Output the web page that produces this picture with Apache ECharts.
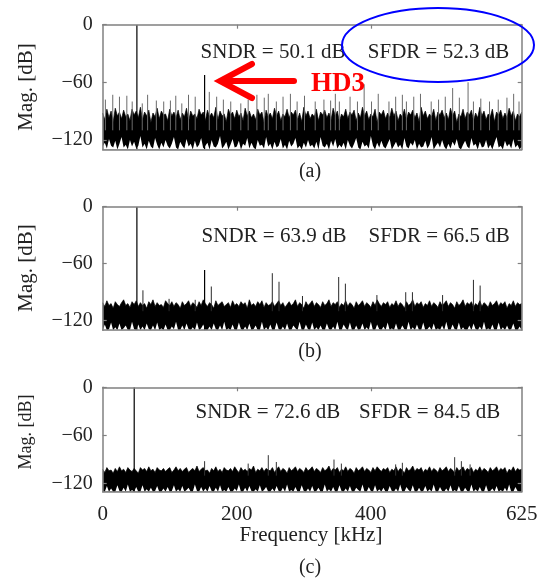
<!DOCTYPE html>
<html>
<head>
<meta charset="utf-8">
<script src="https://cdn.jsdelivr.net/npm/echarts@6/dist/echarts.min.js"></script>
<style>
html,body{margin:0;padding:0;background:#fff;}
#chart{width:549px;height:582px;}
</style>
</head>
<body>
<div id="chart"></div>
<script>
// ---- axes ----
const F_MAX = 625;            // kHz
const DB_MIN = -130;
const STEP = 3.125;           // kHz between noise-floor samples
const xTickLabels = [0, 200, 400, 625];
const xTopTicks = [200, 400];
const yTickLabels = [0, -60, -120];

// ---- panel (a) ----
const noiseTopA = [
-92,-99,-88,-97,-90,-101,-87,-95,-91,-98,
-89,-96,-93,-100,-88,-94,-90,-97,-86,-99,
-91,-95,-89,-102,-92,-96,-87,-98,-90,-94,
-93,-100,-88,-95,-91,-97,-89,-99,-92,-96,
-87,-101,-90,-95,-93,-98,-88,-94,-91,-100,
-89,-96,-92,-97,-86,-99,-90,-95,-93,-101,
-88,-94,-91,-98,-89,-96,-92,-100,-87,-95,
-90,-97,-93,-99,-88,-94,-91,-102,-89,-96,
-92,-98,-87,-95,-90,-100,-93,-96,-88,-97,
-91,-94,-89,-99,-92,-101,-86,-95,-90,-98,
-93,-96,-88,-100,-91,-94,-89,-97,-92,-99,
-87,-95,-90,-101,-93,-96,-88,-98,-91,-94,
-89,-100,-92,-97,-86,-95,-90,-99,-93,-96,
-88,-102,-91,-94,-89,-98,-92,-97,-87,-95,
-90,-100,-93,-96,-88,-99,-91,-94,-89,-97,
-92,-101,-86,-95,-90,-98,-93,-96,-88,-100,
-91,-94,-89,-97,-92,-99,-87,-95,-90,-102,
-93,-96,-88,-98,-91,-94,-89,-100,-92,-97,
-86,-95,-90,-99,-93,-96,-88,-101,-91,-94,
-89,-98,-92,-97,-87,-95,-90,-100,-93,-96,
-91];
const noiseBottomA = [
-127,-123,-129,-119,-126,-128,-121,-130,-124,-117,
-128,-125,-130,-120,-127,-122,-129,-126,-116,-128,
-124,-130,-121,-127,-129,-118,-125,-130,-123,-128,
-120,-126,-129,-124,-117,-128,-130,-122,-126,-129,
-119,-127,-124,-130,-121,-128,-125,-118,-129,-126,
-123,-130,-120,-127,-128,-124,-116,-129,-126,-122,
-130,-125,-119,-128,-127,-121,-130,-124,-126,-118,
-129,-123,-128,-130,-120,-126,-125,-129,-117,-127,
-124,-130,-122,-128,-126,-119,-129,-125,-130,-121,
-127,-124,-118,-129,-126,-130,-123,-128,-120,-127,
-125,-129,-122,-130,-117,-126,-128,-124,-130,-121,
-127,-119,-129,-125,-128,-123,-130,-120,-126,-129,
-124,-118,-128,-130,-122,-127,-125,-129,-116,-126,
-130,-123,-128,-121,-127,-129,-124,-119,-130,-126,
-122,-128,-125,-130,-118,-127,-129,-123,-126,-120,
-130,-124,-128,-127,-121,-129,-125,-117,-130,-126,
-123,-128,-120,-127,-130,-124,-129,-122,-126,-119,
-128,-130,-125,-121,-127,-129,-118,-126,-124,-130,
-122,-128,-127,-120,-129,-125,-130,-123,-117,-128,
-126,-130,-121,-127,-124,-129,-119,-128,-125,-130,
-127];
const spurFreqA = [4,15,25,36,44,59,67,80,91,101,109,118,128,138,159,170,180,191,206,217,230,241,247,259,269,280,290,301,317,330,340,347,353,369,380,390,401,411,427,437,447,453,464,474,490,501,511,522,532,545,553,564,577,590,603,613,621];
const spurMagA  = [-78,-73,-75,-74,-80,-82,-73,-79,-80,-79,-74,-82,-73,-75,-70,-75,-78,-80,-82,-78,-73,-76,-72,-80,-75,-72,-80,-74,-80,-78,-79,-72,-80,-75,-80,-62,-80,-72,-80,-75,-73,-80,-75,-72,-80,-78,-75,-66,-76,-60,-80,-77,-80,-78,-76,-72,-80];
const toneFreqA = [51, 152];
const toneMagA  = [0, -52.3];

// ---- panel (b) ----
const noiseTopB = [
-101,-105,-99,-104,-102,-107,-100,-103,-105,-101,
-98,-104,-102,-106,-100,-103,-99,-105,-101,-104,
-102,-107,-100,-103,-98,-105,-101,-104,-103,-106,
-99,-102,-104,-100,-105,-101,-103,-107,-100,-104,
-102,-99,-105,-101,-103,-106,-100,-104,-98,-102,
-105,-101,-103,-107,-99,-104,-102,-100,-105,-103,
-101,-106,-99,-104,-102,-105,-100,-103,-101,-107,
-98,-104,-102,-105,-100,-103,-99,-106,-101,-104,
-103,-100,-105,-102,-99,-104,-101,-106,-103,-100,
-104,-102,-98,-105,-101,-103,-107,-100,-104,-102,
-99,-105,-101,-103,-106,-100,-104,-102,-98,-105,
-101,-103,-100,-106,-102,-104,-99,-105,-101,-103,
-107,-100,-104,-102,-99,-105,-101,-103,-106,-100,
-104,-98,-102,-105,-101,-103,-100,-106,-102,-104,
-99,-105,-101,-103,-107,-100,-104,-102,-98,-105,
-101,-103,-100,-106,-102,-104,-99,-105,-101,-103,
-106,-100,-104,-102,-99,-105,-101,-103,-107,-100,
-104,-102,-98,-105,-101,-103,-100,-106,-102,-104,
-99,-105,-101,-103,-106,-100,-104,-102,-99,-105,
-101,-103,-100,-107,-102,-104,-99,-105,-101,-103,
-102];
const noiseBottomB = [
-130,-124,-130,-129,-122,-130,-127,-130,-123,-130,
-128,-125,-130,-130,-121,-129,-130,-124,-130,-126,
-130,-123,-129,-130,-125,-130,-122,-130,-128,-130,
-124,-130,-130,-126,-129,-121,-130,-130,-125,-130,
-123,-129,-130,-127,-130,-122,-130,-128,-124,-130,
-130,-126,-130,-123,-129,-130,-125,-130,-121,-130,
-128,-130,-124,-130,-130,-122,-129,-130,-126,-130,
-123,-130,-129,-125,-130,-130,-121,-130,-127,-130,
-124,-130,-130,-122,-129,-130,-126,-130,-123,-130,
-130,-125,-128,-130,-121,-130,-130,-124,-129,-130,
-122,-130,-127,-130,-125,-130,-130,-123,-129,-130,
-126,-130,-121,-130,-130,-124,-128,-130,-122,-130,
-130,-125,-130,-129,-123,-130,-127,-130,-121,-130,
-130,-124,-129,-130,-126,-130,-122,-130,-128,-130,
-123,-130,-130,-125,-129,-130,-121,-130,-127,-130,
-124,-130,-130,-122,-130,-129,-126,-130,-123,-130,
-128,-130,-125,-130,-121,-130,-130,-124,-129,-130,
-122,-130,-127,-130,-130,-125,-130,-123,-129,-130,
-126,-130,-121,-130,-128,-130,-124,-130,-130,-122,
-130,-127,-130,-125,-130,-129,-123,-130,-130,-126,
-130];
const spurFreqB = [60, 99, 138, 162, 253, 263, 298, 352, 362, 409, 452, 462, 507, 553, 563];
const spurMagB  = [-88, -97, -98, -84, -70, -79, -94, -74, -81, -93, -90, -90, -93, -77, -83];
const toneFreqB = [51, 152];
const toneMagB  = [0, -66.5];

// ---- panel (c) ----
const noiseTopC = [
-102,-106,-100,-104,-103,-107,-101,-105,-99,-104,
-102,-106,-100,-103,-105,-101,-104,-107,-100,-103,
-101,-105,-99,-104,-102,-106,-100,-103,-104,-101,
-105,-102,-100,-106,-103,-99,-104,-101,-105,-102,
-100,-106,-103,-101,-104,-98,-105,-102,-100,-104,
-103,-107,-101,-104,-99,-105,-102,-106,-100,-103,
-104,-101,-105,-99,-103,-106,-100,-104,-102,-105,
-101,-103,-98,-106,-102,-104,-100,-105,-101,-103,
-104,-100,-106,-102,-99,-105,-101,-103,-107,-100,
-104,-102,-99,-105,-101,-103,-106,-100,-104,-102,
-99,-105,-101,-103,-106,-100,-104,-102,-98,-105,
-101,-103,-100,-106,-102,-104,-99,-105,-101,-103,
-107,-100,-104,-102,-99,-105,-101,-103,-106,-100,
-104,-99,-102,-105,-101,-103,-100,-106,-102,-104,
-99,-105,-101,-103,-107,-100,-104,-102,-98,-105,
-101,-103,-100,-106,-102,-104,-99,-105,-101,-103,
-106,-100,-104,-102,-99,-105,-101,-103,-107,-100,
-104,-102,-99,-105,-101,-103,-100,-106,-102,-104,
-99,-105,-101,-103,-106,-100,-104,-102,-99,-105,
-101,-103,-100,-107,-102,-104,-99,-105,-101,-103,
-102];
const noiseBottomC = [
-129,-130,-123,-130,-126,-130,-130,-122,-129,-130,
-125,-130,-121,-130,-128,-130,-124,-130,-130,-122,
-130,-127,-130,-125,-130,-129,-123,-130,-130,-126,
-130,-124,-130,-129,-122,-130,-127,-130,-123,-130,
-128,-125,-130,-130,-121,-129,-130,-124,-130,-126,
-130,-123,-129,-130,-125,-130,-122,-130,-128,-130,
-124,-130,-130,-126,-129,-121,-130,-130,-125,-130,
-123,-129,-130,-127,-130,-122,-130,-128,-124,-130,
-130,-126,-130,-123,-129,-130,-125,-130,-121,-130,
-128,-130,-124,-130,-130,-122,-129,-130,-126,-130,
-123,-130,-129,-125,-130,-130,-121,-130,-127,-130,
-124,-130,-130,-122,-129,-130,-126,-130,-123,-130,
-130,-125,-128,-130,-121,-130,-130,-124,-129,-130,
-122,-130,-127,-130,-125,-130,-130,-123,-129,-130,
-126,-130,-121,-130,-130,-124,-128,-130,-122,-130,
-130,-125,-130,-129,-123,-130,-127,-130,-121,-130,
-130,-124,-129,-130,-126,-130,-122,-130,-128,-130,
-123,-130,-130,-125,-129,-130,-121,-130,-127,-130,
-124,-130,-130,-122,-130,-129,-126,-130,-123,-130,
-128,-130,-125,-130,-121,-130,-130,-124,-129,-130,
-130];
const spurFreqC = [152, 217, 247, 259, 345, 356, 437, 447, 525, 535, 548];
const spurMagC  = [-92, -95, -84.5, -93, -90, -95, -96, -94, -87, -92, -96];
const toneFreqC = [47];
const toneMagC  = [0];

// ---- annotations ----
const sndrText = ['SNDR = 50.1 dB', 'SNDR = 63.9 dB', 'SNDR = 72.6 dB'];
const sfdrText = ['SFDR = 52.3 dB', 'SFDR = 66.5 dB', 'SFDR = 84.5 dB'];
const panelTags = ['(a)', '(b)', '(c)'];

// ---- drawing ----
const SERIF = '"Liberation Serif","Times New Roman",serif';
const FRAME = '#808080';
const INK = '#222';
const SPUR_BASE = -110;   // spurs rise out of the noise band

const GRID_LEFT = 102.7, GRID_W = 419;
const layout = [
  { top: 24.7,  height: 124.8, textY: 52,  tagY: 172, magY: 87,  magSize: 21 },
  { top: 206.7, height: 123.5, textY: 236, tagY: 352, magY: 268, magSize: 21 },
  { top: 387.3, height: 104.4, textY: 412, tagY: 568, magY: 432, magSize: 18 }
];
const sndrX = [200.6, 201.6, 195.5];
const sfdrX = [367.8, 368.5, 359.0];

const panels = [
  { top: noiseTopA, bottom: noiseBottomA, spurF: spurFreqA, spurM: spurMagA, toneF: toneFreqA, toneM: toneMagA, spurColor: '#6a6a6a' },
  { top: noiseTopB, bottom: noiseBottomB, spurF: spurFreqB, spurM: spurMagB, toneF: toneFreqB, toneM: toneMagB, spurColor: '#2a2a2a' },
  { top: noiseTopC, bottom: noiseBottomC, spurF: spurFreqC, spurM: spurMagC, toneF: toneFreqC, toneM: toneMagC, spurColor: '#333' }
];

const fmtDb = v => String(v).replace('-', '\u2212');

const grid = [], xAxis = [], yAxis = [], series = [], graphic = [];

function stickRenderer(color, width) {
  return function (params, api) {
    const f = api.value(0);
    const p1 = api.coord([f, api.value(1)]);
    const p0 = api.coord([f, api.value(2)]);
    return {
      type: 'line',
      shape: { x1: p0[0], y1: p0[1], x2: p1[0], y2: p1[1] },
      style: { stroke: color, lineWidth: width }
    };
  };
}

panels.forEach((p, i) => {
  const L = layout[i];
  grid.push({ left: GRID_LEFT, width: GRID_W, top: L.top, height: L.height, outerBoundsMode: 'none', containLabel: false });

  const frameLine = { show: true, onZero: false, lineStyle: { color: FRAME, width: 1.5 } };
  xAxis.push({
    gridIndex: i, type: 'value', min: 0, max: F_MAX, position: 'bottom', z: 10,
    axisLine: frameLine, splitLine: { show: false },
    axisTick: { show: false },
    axisLabel: { show: i === 2, customValues: xTickLabels, margin: 12, fontSize: 21, fontFamily: SERIF, color: INK }
  });
  xAxis.push({
    gridIndex: i, type: 'value', min: 0, max: F_MAX, position: 'top', z: 10,
    axisLine: frameLine, splitLine: { show: false },
    axisTick: { show: true, inside: true, length: 4, customValues: xTopTicks, lineStyle: { color: FRAME, width: 1.2 } },
    axisLabel: { show: false }
  });
  yAxis.push({
    gridIndex: i, type: 'value', min: DB_MIN, max: 0, position: 'left', z: 10,
    axisLine: frameLine, splitLine: { show: false },
    axisTick: { show: true, inside: true, length: 4, customValues: yTickLabels, lineStyle: { color: FRAME, width: 1.2 } },
    axisLabel: { customValues: yTickLabels, margin: 10, fontSize: 20, fontFamily: SERIF, color: INK, formatter: fmtDb }
  });
  yAxis.push({
    gridIndex: i, type: 'value', min: DB_MIN, max: 0, position: 'right', z: 10,
    axisLine: frameLine, splitLine: { show: false },
    axisTick: { show: true, inside: true, length: 4, customValues: yTickLabels, lineStyle: { color: FRAME, width: 1.2 } },
    axisLabel: { show: false }
  });

  const xi = 2 * i, yi = 2 * i;
  // black noise band: filled from its upper edge down
  series.push({
    type: 'line', xAxisIndex: xi, yAxisIndex: yi, z: 1, silent: true,
    data: p.top.map((v, k) => [k * STEP, v]), symbol: 'none',
    lineStyle: { color: '#000', width: 0.7 },
    areaStyle: { color: '#000', opacity: 1, origin: 'start' }
  });
  // lower edge of the band: white below it
  series.push({
    type: 'line', xAxisIndex: xi, yAxisIndex: yi, z: 2, silent: true,
    data: p.bottom.map((v, k) => [k * STEP, v]), symbol: 'none',
    lineStyle: { width: 0 },
    areaStyle: { color: '#fff', opacity: 1, origin: 'start' }
  });
  // spurs
  series.push({
    type: 'custom', xAxisIndex: xi, yAxisIndex: yi, z: 3, silent: true, clip: true,
    data: p.spurF.map((f, k) => [f, p.spurM[k], SPUR_BASE]),
    renderItem: stickRenderer(p.spurColor, 1)
  });
  // signal tone and main harmonic
  series.push({
    type: 'custom', xAxisIndex: xi, yAxisIndex: yi, z: 4, silent: true, clip: true,
    data: p.toneF.map((f, k) => [f, p.toneM[k], DB_MIN]),
    renderItem: stickRenderer('#000', 1.2)
  });

  const txt = { fontSize: 21, fontFamily: SERIF, fill: INK, textVerticalAlign: 'middle' };
  graphic.push({ type: 'text', x: sndrX[i], y: L.textY, z: 20, style: Object.assign({ text: sndrText[i] }, txt) });
  graphic.push({ type: 'text', x: sfdrX[i], y: L.textY, z: 20, style: Object.assign({ text: sfdrText[i] }, txt) });
  graphic.push({ type: 'text', x: 310, y: L.tagY, z: 20, style: { text: panelTags[i], fontSize: 20, fontFamily: SERIF, fill: INK, textAlign: 'center', textVerticalAlign: 'middle' } });
  graphic.push({ type: 'text', x: 26, y: L.magY, rotation: Math.PI / 2, z: 20, style: { text: 'Mag. [dB]', fontSize: L.magSize, fontFamily: SERIF, fill: INK, textAlign: 'center', textVerticalAlign: 'middle' } });
});

graphic.push({ type: 'text', x: 311, y: 535, z: 20, style: { text: 'Frequency [kHz]', fontSize: 21, fontFamily: SERIF, fill: INK, textAlign: 'center', textVerticalAlign: 'middle' } });

// highlight around the SFDR figure of panel (a)
graphic.push({ type: 'ellipse', z: 30, shape: { cx: 438, cy: 45, rx: 96, ry: 37 }, style: { fill: 'none', stroke: '#0000ff', lineWidth: 2 } });
// arrow pointing at the third harmonic
graphic.push({ type: 'polyline', z: 30, shape: { points: [[294, 81], [221, 81]] }, style: { stroke: '#ff0000', lineWidth: 6, lineCap: 'round', fill: 'none' } });
graphic.push({ type: 'polyline', z: 30, shape: { points: [[252, 64], [220, 81], [252, 98]] }, style: { stroke: '#ff0000', lineWidth: 6, lineCap: 'round', lineJoin: 'miter', fill: 'none' } });
graphic.push({ type: 'text', x: 311, y: 84, z: 30, style: { text: 'HD3', fontSize: 27, fontWeight: 'bold', fontFamily: SERIF, fill: '#ff0000', textVerticalAlign: 'middle' } });

const chart = echarts.init(document.getElementById('chart'), null, { renderer: 'canvas' });
chart.setOption({
  animation: false,
  backgroundColor: '#fff',
  grid, xAxis, yAxis, series, graphic
});
</script>
</body>
</html>
